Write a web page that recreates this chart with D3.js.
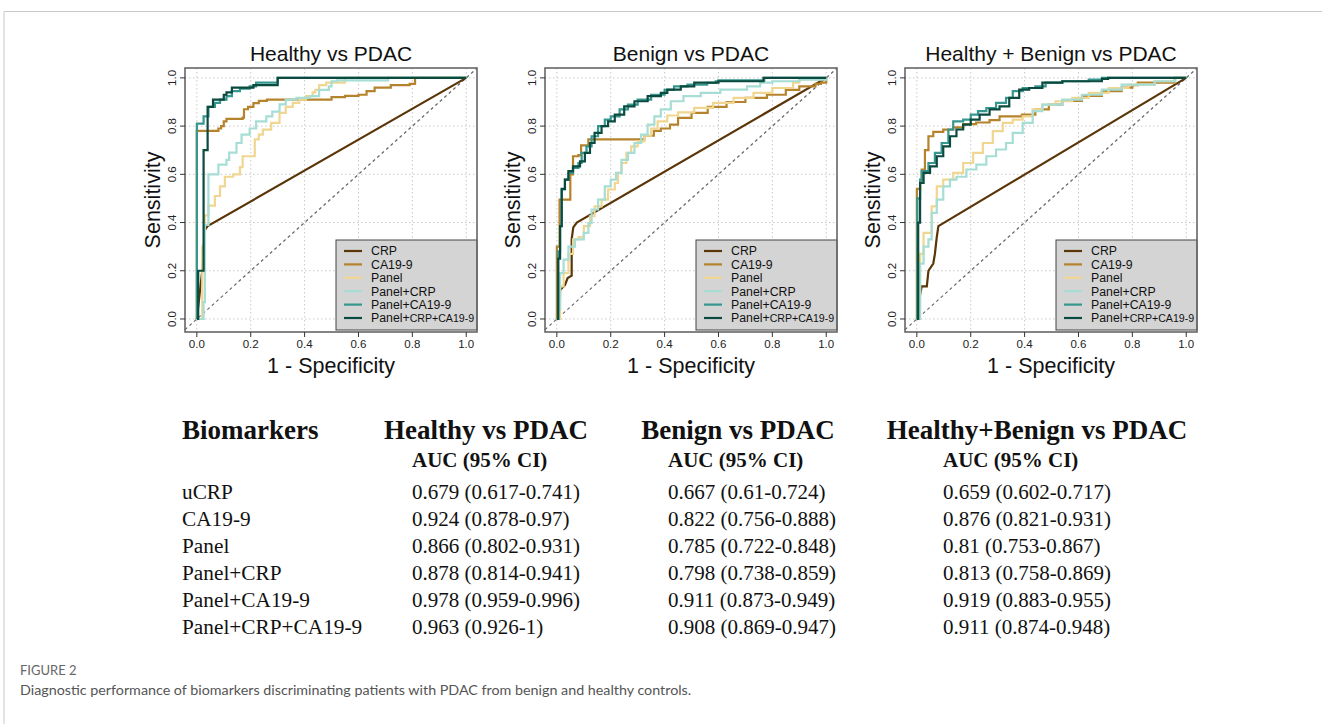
<!DOCTYPE html>
<html>
<head>
<meta charset="utf-8">
<script src="https://cdn.jsdelivr.net/npm/d3@7"></script>
<style>
  body { margin: 0; background: #fff; }
  svg { display: block; }
</style>
</head>
<body>
<svg id="fig" width="1322" height="724"></svg>
<script>
// ---- data ----
const markers = ['CRP', 'CA19-9', 'Panel', 'Panel+CRP', 'Panel+CA19-9', 'Panel+CRP+CA19-9'];
const panelTitles = ['Healthy vs PDAC', 'Benign vs PDAC', 'Healthy + Benign vs PDAC'];
const axisTicks = [0, 0.2, 0.4, 0.6, 0.8, 1.0];

// ROC vertices [1 - specificity, sensitivity], one list per marker (same order as markers)
const rocHealthy = [
  [[0,0],[0.02,0.2],[0.03,0.37],[0.04,0.385],[1,1]],
  [[0,0],[0,0.78],[0.06,0.78],[0.08,0.79],[0.09,0.8],[0.1,0.82],[0.11,0.83],[0.17,0.835],[0.175,0.87],[0.19,0.88],[0.21,0.895],[0.23,0.905],[0.26,0.91],[0.45,0.91],[0.5,0.92],[0.55,0.925],[0.6,0.93],[0.63,0.945],[0.66,0.96],[0.72,0.97],[0.79,0.975],[0.81,1],[1,1]],
  [[0,0],[0.02,0],[0.02,0.3],[0.03,0.43],[0.04,0.43],[0.043,0.47],[0.067,0.51],[0.086,0.55],[0.104,0.59],[0.135,0.6],[0.16,0.63],[0.17,0.675],[0.21,0.675],[0.215,0.745],[0.23,0.765],[0.245,0.785],[0.276,0.813],[0.307,0.855],[0.33,0.88],[0.356,0.896],[0.38,0.91],[0.405,0.924],[0.43,0.94],[0.44,0.95],[0.454,0.97],[0.48,0.98],[0.53,0.98],[0.55,1],[1,1]],
  [[0,0],[0.025,0],[0.025,0.07],[0.03,0.39],[0.043,0.39],[0.043,0.6],[0.08,0.6],[0.08,0.64],[0.11,0.66],[0.12,0.69],[0.147,0.73],[0.166,0.765],[0.196,0.79],[0.22,0.82],[0.258,0.84],[0.28,0.86],[0.307,0.89],[0.33,0.91],[0.37,0.917],[0.42,0.924],[0.454,0.95],[0.49,0.965],[0.5,0.986],[0.52,0.99],[0.7,0.99],[0.71,1],[1,1]],
  [[0,0],[0,0.81],[0.02,0.81],[0.025,0.84],[0.043,0.88],[0.067,0.896],[0.086,0.91],[0.11,0.924],[0.13,0.945],[0.16,0.955],[0.196,0.965],[0.22,0.98],[0.3,1],[1,1]],
  [[0,0],[0.005,0],[0.005,0.2],[0.025,0.2],[0.025,0.7],[0.04,0.7],[0.04,0.88],[0.06,0.89],[0.06,0.91],[0.09,0.91],[0.1,0.93],[0.11,0.94],[0.13,0.96],[0.2,0.96],[0.21,0.97],[0.25,0.97],[0.3,1],[1,1]]
];
const rocBenign = [
  [[0,0],[0.01,0],[0.012,0.12],[0.03,0.14],[0.04,0.17],[0.055,0.18],[0.055,0.33],[0.061,0.38],[0.074,0.4],[1,1]],
  [[0,0],[0,0.3],[0.01,0.495],[0.05,0.495],[0.05,0.6],[0.06,0.675],[0.08,0.68],[0.09,0.72],[0.117,0.745],[0.32,0.745],[0.325,0.76],[0.36,0.78],[0.386,0.79],[0.42,0.806],[0.45,0.834],[0.5,0.855],[0.56,0.88],[0.63,0.9],[0.7,0.917],[0.78,0.93],[0.85,0.95],[0.9,0.965],[0.96,0.975],[0.98,0.98],[1,1]],
  [[0,0],[0.01,0],[0.012,0.135],[0.025,0.19],[0.043,0.27],[0.06,0.33],[0.08,0.34],[0.1,0.385],[0.123,0.426],[0.14,0.467],[0.166,0.495],[0.19,0.537],[0.215,0.564],[0.227,0.606],[0.24,0.647],[0.258,0.689],[0.276,0.716],[0.3,0.737],[0.325,0.76],[0.35,0.79],[0.374,0.82],[0.41,0.844],[0.45,0.857],[0.51,0.876],[0.58,0.896],[0.656,0.917],[0.73,0.938],[0.8,0.958],[0.877,0.98],[0.9,0.995],[1,1]],
  [[0,0],[0.006,0],[0.006,0.04],[0.012,0.19],[0.025,0.246],[0.043,0.3],[0.067,0.33],[0.1,0.357],[0.117,0.398],[0.129,0.454],[0.153,0.495],[0.178,0.55],[0.2,0.578],[0.22,0.606],[0.24,0.66],[0.264,0.689],[0.288,0.73],[0.313,0.765],[0.337,0.806],[0.362,0.84],[0.386,0.869],[0.423,0.903],[0.47,0.924],[0.534,0.938],[0.607,0.951],[0.706,0.965],[0.755,0.98],[0.8,0.986],[0.9,0.993],[1,1]],
  [[0,0],[0.005,0],[0.005,0.28],[0.012,0.385],[0.018,0.537],[0.03,0.578],[0.043,0.606],[0.06,0.627],[0.08,0.647],[0.092,0.689],[0.11,0.716],[0.129,0.758],[0.153,0.8],[0.178,0.827],[0.2,0.84],[0.233,0.869],[0.264,0.889],[0.3,0.91],[0.35,0.93],[0.4,0.95],[0.435,0.965],[0.485,0.972],[0.558,0.979],[0.59,0.986],[0.6,0.99],[0.77,0.99],[0.77,1],[1,1]],
  [[0,0],[0.005,0],[0.005,0.25],[0.012,0.385],[0.018,0.54],[0.03,0.578],[0.043,0.613],[0.06,0.633],[0.086,0.654],[0.104,0.689],[0.123,0.73],[0.14,0.772],[0.166,0.8],[0.19,0.82],[0.215,0.848],[0.25,0.882],[0.288,0.903],[0.337,0.924],[0.386,0.938],[0.41,0.951],[0.46,0.965],[0.51,0.98],[0.6,0.986],[0.767,0.986],[0.767,1],[1,1]]
];
const rocBoth = [
  [[0,0],[0.01,0],[0.01,0.09],[0.018,0.135],[0.037,0.135],[0.043,0.2],[0.061,0.23],[0.067,0.27],[0.074,0.34],[0.08,0.385],[1,1]],
  [[0,0],[0,0.54],[0.012,0.564],[0.018,0.62],[0.03,0.7],[0.043,0.758],[0.061,0.776],[0.098,0.785],[0.135,0.795],[0.172,0.808],[0.22,0.815],[0.27,0.825],[0.307,0.84],[0.39,0.848],[0.44,0.869],[0.49,0.889],[0.54,0.905],[0.613,0.925],[0.687,0.945],[0.76,0.96],[0.8,0.97],[0.82,0.98],[0.93,0.98],[0.957,1],[1,1]],
  [[0,0],[0.01,0],[0.012,0.27],[0.025,0.357],[0.049,0.357],[0.055,0.467],[0.074,0.55],[0.098,0.578],[0.135,0.606],[0.172,0.647],[0.209,0.689],[0.245,0.73],[0.282,0.779],[0.319,0.813],[0.356,0.827],[0.393,0.84],[0.43,0.869],[0.466,0.889],[0.515,0.903],[0.577,0.917],[0.638,0.938],[0.712,0.958],[0.785,0.972],[0.883,0.986],[0.957,1],[1,1]],
  [[0,0],[0.005,0],[0.012,0.23],[0.025,0.3],[0.043,0.33],[0.055,0.44],[0.074,0.495],[0.098,0.55],[0.123,0.578],[0.147,0.59],[0.184,0.62],[0.221,0.64],[0.258,0.675],[0.294,0.703],[0.331,0.73],[0.356,0.772],[0.393,0.813],[0.43,0.862],[0.466,0.889],[0.54,0.91],[0.613,0.93],[0.687,0.951],[0.76,0.972],[0.883,0.986],[0.96,1],[1,1]],
  [[0,0],[0.002,0],[0.002,0.5],[0.012,0.578],[0.018,0.613],[0.043,0.647],[0.067,0.689],[0.092,0.73],[0.117,0.786],[0.135,0.82],[0.172,0.827],[0.2,0.848],[0.227,0.862],[0.258,0.875],[0.294,0.896],[0.331,0.917],[0.356,0.945],[0.393,0.958],[0.44,0.965],[0.478,0.98],[0.54,0.986],[0.638,0.993],[0.687,1],[1,1]],
  [[0,0],[0.005,0],[0.005,0.4],[0.012,0.564],[0.025,0.606],[0.049,0.633],[0.074,0.675],[0.098,0.716],[0.123,0.758],[0.147,0.786],[0.172,0.806],[0.2,0.827],[0.233,0.848],[0.27,0.869],[0.307,0.882],[0.343,0.917],[0.38,0.951],[0.417,0.958],[0.466,0.98],[0.54,0.986],[0.687,0.996],[0.71,1],[1,1]]
];

// table
const tableHeads = ['Healthy vs PDAC', 'Benign vs PDAC', 'Healthy+Benign vs PDAC'];
const tableRows = ['uCRP', 'CA19-9', 'Panel', 'Panel+CRP', 'Panel+CA19-9', 'Panel+CRP+CA19-9'];
const aucHealthy = ['0.679 (0.617-0.741)', '0.924 (0.878-0.97)', '0.866 (0.802-0.931)', '0.878 (0.814-0.941)', '0.978 (0.959-0.996)', '0.963 (0.926-1)'];
const aucBenign = ['0.667 (0.61-0.724)', '0.822 (0.756-0.888)', '0.785 (0.722-0.848)', '0.798 (0.738-0.859)', '0.911 (0.873-0.949)', '0.908 (0.869-0.947)'];
const aucBoth = ['0.659 (0.602-0.717)', '0.876 (0.821-0.931)', '0.81 (0.753-0.867)', '0.813 (0.758-0.869)', '0.919 (0.883-0.955)', '0.911 (0.874-0.948)'];

// ---- styles ----
const colors = ['#5a3508', '#b5832c', '#f0d690', '#a6ddd4', '#35978f', '#0b4a3f'];
const sans = 'Liberation Sans, Arial, sans-serif';
const serif = 'Liberation Serif, Times New Roman, serif';

const svg = d3.select('#fig');

// page frame lines
svg.append('path')
  .attr('d', 'M4,724 V11.5 H1322')
  .attr('fill', 'none').attr('stroke', '#c8c8c8').attr('stroke-width', 1);

const panelLeft = [185, 545, 905];
const panelW = 292;
const frameTop = 68, frameBottom = 332;
const panels = [rocHealthy, rocBenign, rocBoth];

panels.forEach((curves, pi) => {
  const x = d3.scaleLinear().domain([-0.044, 1.04]).range([panelLeft[pi], panelLeft[pi] + panelW]);
  const y = d3.scaleLinear().domain([-0.054, 1.041]).range([frameBottom, frameTop]);
  const g = svg.append('g');

  // grid
  g.selectAll('.gx').data(axisTicks).enter().append('line')
    .attr('x1', d => x(d)).attr('x2', d => x(d))
    .attr('y1', frameTop).attr('y2', frameBottom)
    .attr('stroke', '#c8c8c8').attr('stroke-dasharray', '1.5,2.5');
  g.selectAll('.gy').data(axisTicks).enter().append('line')
    .attr('y1', d => y(d)).attr('y2', d => y(d))
    .attr('x1', x.range()[0]).attr('x2', x.range()[1])
    .attr('stroke', '#c8c8c8').attr('stroke-dasharray', '1.5,2.5');

  // chance diagonal
  g.append('line')
    .attr('x1', x(-0.044)).attr('y1', y(-0.044))
    .attr('x2', x(1.04)).attr('y2', y(1.04))
    .attr('stroke', '#666').attr('stroke-width', 1.2).attr('stroke-dasharray', '3,3');

  // curves
  curves.forEach((pts, ci) => {
    const line = d3.line()
      .x(d => x(d[0])).y(d => y(d[1]))
      .curve(ci === 0 ? d3.curveLinear : d3.curveStepAfter);
    g.append('path').datum(pts)
      .attr('d', line)
      .attr('fill', 'none')
      .attr('stroke', colors[ci])
      .attr('stroke-width', 2.2)
      .attr('stroke-linejoin', 'miter');
  });

  // legend
  const lgW = 141, lgH = 90;
  const lgX = x.range()[1] - lgW, lgY = frameBottom - 2 - lgH;
  const lg = g.append('g').attr('transform', `translate(${lgX},${lgY})`);
  lg.append('rect').attr('width', lgW).attr('height', lgH)
    .attr('fill', '#d4d4d4').attr('stroke', '#444').attr('stroke-width', 1);
  const ly = d3.scalePoint().domain(markers).range([11, 78]);
  markers.forEach((m, i) => {
    lg.append('line')
      .attr('x1', 8).attr('x2', 26).attr('y1', ly(m)).attr('y2', ly(m))
      .attr('stroke', colors[i]).attr('stroke-width', 2.2);
    const t = lg.append('text')
      .attr('x', 35).attr('y', ly(m)).attr('dy', '0.35em')
      .attr('font-family', sans).attr('font-size', 12.3).attr('fill', '#111');
    if (m === 'Panel+CRP+CA19-9') {
      t.append('tspan').text('Panel+');
      t.append('tspan').attr('font-size', 10.6).text('CRP+CA19-9');
    } else {
      t.text(m);
    }
  });

  // frame
  g.append('rect')
    .attr('x', x.range()[0]).attr('y', frameTop)
    .attr('width', panelW).attr('height', frameBottom - frameTop)
    .attr('fill', 'none').attr('stroke', '#666').attr('stroke-width', 1.6);

  // x axis ticks + labels
  g.selectAll('.tx').data(axisTicks).enter().append('line')
    .attr('x1', d => x(d)).attr('x2', d => x(d))
    .attr('y1', frameBottom).attr('y2', frameBottom + 5)
    .attr('stroke', '#333');
  g.selectAll('.lx').data(axisTicks).enter().append('text')
    .attr('x', d => x(d)).attr('y', frameBottom + 16)
    .attr('text-anchor', 'middle')
    .attr('font-family', sans).attr('font-size', 11.5).attr('fill', '#222')
    .text(d => d.toFixed(1));

  // y axis ticks + labels (rotated)
  g.selectAll('.ty').data(axisTicks).enter().append('line')
    .attr('y1', d => y(d)).attr('y2', d => y(d))
    .attr('x1', x.range()[0]).attr('x2', x.range()[0] - 5)
    .attr('stroke', '#333');
  g.selectAll('.ly').data(axisTicks).enter().append('text')
    .attr('transform', d => `translate(${x.range()[0] - 13},${y(d)}) rotate(-90)`)
    .attr('dy', '0.35em')
    .attr('text-anchor', 'middle')
    .attr('font-family', sans).attr('font-size', 11.5).attr('fill', '#222')
    .text(d => d.toFixed(1));

  // titles
  const cx = (x.range()[0] + x.range()[1]) / 2;
  g.append('text')
    .attr('x', cx).attr('y', 61)
    .attr('text-anchor', 'middle')
    .attr('font-family', sans).attr('font-size', 21).attr('fill', '#111')
    .text(panelTitles[pi]);
  g.append('text')
    .attr('x', cx).attr('y', 373)
    .attr('text-anchor', 'middle')
    .attr('font-family', sans).attr('font-size', 21.5).attr('fill', '#111')
    .text('1 - Specificity');
  g.append('text')
    .attr('transform', `translate(${x.range()[0] - 33},${(frameTop + frameBottom) / 2}) rotate(-90)`)
    .attr('dy', '0.35em')
    .attr('text-anchor', 'middle')
    .attr('font-family', sans).attr('font-size', 21.5).attr('fill', '#111')
    .text('Sensitivity');
});

// ---- AUC table ----
const tbl = svg.append('g').attr('font-family', serif).attr('fill', '#111');
const headCenters = [486, 738, 1037];
const valueLeft = [412, 668, 943];
const rowY = d3.scalePoint().domain(tableRows).range([499, 634]);

tbl.append('text').attr('x', 182).attr('y', 439)
  .attr('font-size', 27).attr('font-weight', 'bold').text('Biomarkers');
tableHeads.forEach((h, i) => {
  tbl.append('text').attr('x', headCenters[i]).attr('y', 439)
    .attr('text-anchor', 'middle')
    .attr('font-size', 27).attr('font-weight', 'bold').text(h);
  tbl.append('text').attr('x', valueLeft[i]).attr('y', 467)
    .attr('font-size', 21).attr('font-weight', 'bold').text('AUC (95% CI)');
});
tbl.selectAll('.rl').data(tableRows).enter().append('text')
  .attr('x', 182).attr('y', d => rowY(d))
  .attr('font-size', 21.3).text(d => d);
[aucHealthy, aucBenign, aucBoth].forEach((col, i) => {
  tbl.selectAll('.v' + i).data(col).enter().append('text')
    .attr('x', valueLeft[i]).attr('y', (d, j) => rowY(tableRows[j]))
    .attr('font-size', 21).text(d => d);
});

// ---- caption ----
svg.append('text').attr('x', 20).attr('y', 675)
  .attr('font-family', 'Lato, sans-serif').attr('font-size', 13)
  .attr('fill', '#666').text('FIGURE 2');
svg.append('text').attr('x', 20).attr('y', 695)
  .attr('font-family', 'Lato, sans-serif').attr('font-size', 14.3)
  .attr('fill', '#555')
  .text('Diagnostic performance of biomarkers discriminating patients with PDAC from benign and healthy controls.');
</script>
</body>
</html>
